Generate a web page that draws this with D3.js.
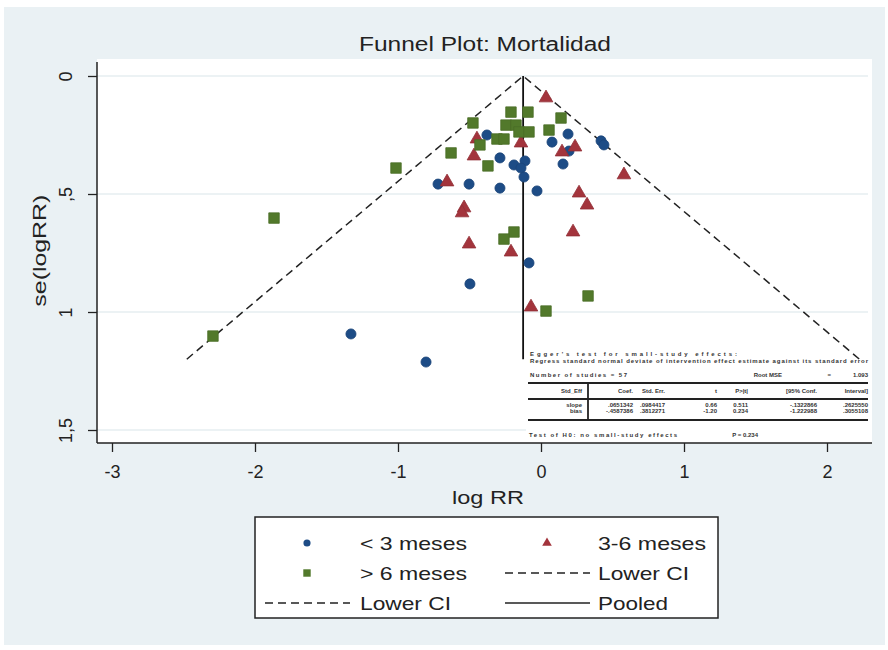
<!DOCTYPE html>
<html>
<head>
<meta charset="utf-8">
<script src="https://cdn.jsdelivr.net/npm/d3@7"></script>
<style>
  body { margin: 0; background: #fff; }
  svg text { font-family: "Liberation Sans Narrow", "Liberation Sans", Arial, sans-serif; }
</style>
</head>
<body>
<div id="chart"></div>
<script>
// x = log RR, y = se(logRR)
const lessThan3 = [
    [-0.378, 0.250], [0.189, 0.246], [0.077, 0.280], [0.420, 0.275], [0.440, 0.292],
    [0.196, 0.318], [-0.287, 0.347], [-0.112, 0.360], [-0.189, 0.377], [-0.140, 0.390],
    [0.154, 0.373], [-0.119, 0.428], [-0.720, 0.458], [-0.503, 0.458], [-0.287, 0.475],
    [-0.028, 0.487], [-0.084, 0.792], [-0.497, 0.881], [-1.329, 1.093], [-0.804, 1.212]
];
const from3to6 = [
    [0.035, 0.093], [-0.448, 0.267], [-0.140, 0.284], [-0.469, 0.339], [0.238, 0.301],
    [0.147, 0.322], [0.580, 0.419], [-0.657, 0.449], [0.266, 0.496], [0.322, 0.547],
    [-0.538, 0.559], [-0.552, 0.580], [0.224, 0.661], [-0.503, 0.712], [-0.210, 0.746],
    [-0.070, 0.979]
];
const moreThan6 = [
    [-0.210, 0.153], [-0.091, 0.153], [0.140, 0.178], [-0.476, 0.199], [-0.245, 0.208],
    [-0.175, 0.208], [-0.154, 0.237], [-0.084, 0.237], [0.056, 0.229], [-0.308, 0.267],
    [-0.259, 0.267], [-0.427, 0.292], [-0.629, 0.326], [-0.371, 0.381], [-1.014, 0.390],
    [-1.867, 0.602], [-0.189, 0.661], [-0.259, 0.691], [0.329, 0.932], [0.035, 0.996],
    [-2.294, 1.102]
];
const pooled = -0.125;
const seMax = 1.2;
const xTicks = [-3, -2, -1, 0, 1, 2];
const yTicks = [0, 0.5, 1, 1.5];

// Egger's test output printed in the plot (barely legible in the original)
const eggerLines = [
    "Egger's test for small-study effects:",
    "Regress standard normal deviate of intervention effect estimate against its standard error"
];
const eggerStudies = "Number of studies =  57";
const eggerRmse = ["Root MSE", "=", "1.093"];
const eggerHeader = ["Std_Eff", "Coef.", "Std. Err.", "t", "P>|t|", "[95% Conf.", "Interval]"];
const eggerRows = [
    ["slope", ".0651342", ".0984417", "0.66", "0.511", "-.1322866", ".2625550"],
    ["bias", "-.4587386", ".3812271", "-1.20", "0.234", "-1.222988", ".3055108"]
];
const eggerTest = ["Test of H0: no small-study effects", "P = 0.234"];

const series = [
    { name: "< 3 meses", data: lessThan3, color: "#1d4c86", shape: "circle" },
    { name: "3-6 meses", data: from3to6, color: "#a3343c", shape: "triangle" },
    { name: "> 6 meses", data: moreThan6, color: "#52792b", shape: "square" }
];

const width = 888, height = 650;
const plot = { left: 97, right: 872, top: 59, bottom: 443 };

const x = d3.scaleLinear().domain([-3, 2]).range([112, 827]);
const y = d3.scaleLinear().domain([0, 1.5]).range([76, 430]);

const svg = d3.create("svg")
    .attr("width", width)
    .attr("height", height)
    .attr("viewBox", [0, 0, width, height]);

// graph region and plot region
svg.append("rect").attr("x", 4).attr("y", 7).attr("width", 881).attr("height", 638).attr("fill", "#eaf1f4");
svg.append("rect").attr("x", plot.left).attr("y", plot.top)
    .attr("width", plot.right - plot.left).attr("height", plot.bottom - plot.top).attr("fill", "#fff");

svg.append("g")
    .selectAll("line")
    .data(yTicks)
    .join("line")
    .attr("x1", plot.left).attr("x2", plot.right - 4)
    .attr("y1", d => y(d)).attr("y2", d => y(d))
    .attr("stroke", "#e6eef1").attr("stroke-width", 1.5);

svg.append("text")
    .attr("x", 485).attr("y", 51)
    .attr("text-anchor", "middle")
    .attr("textLength", 252).attr("lengthAdjust", "spacingAndGlyphs")
    .style("font-size", "20px").attr("fill", "#222")
    .text("Funnel Plot: Mortalidad");

// axes
const xAxis = svg.append("g")
    .attr("transform", `translate(0,${plot.bottom})`)
    .call(d3.axisBottom(x).tickValues(xTicks).tickSize(9).tickPadding(13).tickFormat(d => String(d)));
xAxis.select(".domain").remove();
xAxis.selectAll("line").attr("stroke", "#222").attr("stroke-width", 1.3);
xAxis.selectAll("text").style("font-size", "18px").attr("fill", "#222");

const yAxis = svg.append("g")
    .attr("transform", `translate(${plot.left},0)`)
    .call(d3.axisLeft(y).tickValues(yTicks).tickSize(9)
        .tickFormat(d => String(d).replace(".", ",").replace(/^0,/, ",")));
yAxis.select(".domain").remove();
yAxis.selectAll("line").attr("stroke", "#222").attr("stroke-width", 1.3);
yAxis.selectAll("text")
    .attr("transform", "rotate(-90)")
    .attr("x", 0).attr("y", -25).attr("dy", 0)
    .attr("text-anchor", "middle")
    .style("font-size", "18px").attr("fill", "#222");

svg.append("line").attr("x1", plot.left).attr("x2", plot.left)
    .attr("y1", plot.top + 3).attr("y2", plot.bottom).attr("stroke", "#222").attr("stroke-width", 1.5);
svg.append("line").attr("x1", plot.left).attr("x2", plot.right)
    .attr("y1", plot.bottom).attr("y2", plot.bottom).attr("stroke", "#222").attr("stroke-width", 1.5);

svg.append("text")
    .attr("x", 488).attr("y", 504)
    .attr("text-anchor", "middle")
    .attr("textLength", 72).attr("lengthAdjust", "spacingAndGlyphs")
    .style("font-size", "19px").attr("fill", "#222")
    .text("log RR");
svg.append("text")
    .attr("transform", `translate(46,${y(0.74)}) rotate(-90)`)
    .attr("text-anchor", "middle")
    .attr("textLength", 112).attr("lengthAdjust", "spacingAndGlyphs")
    .style("font-size", "19px").attr("fill", "#222")
    .text("se(logRR)");

// Egger table (drawn under the funnel lines)
const tbl = svg.append("g").attr("fill", "#333").style("font-size", "6px").style("font-weight", "bold");
tbl.append("rect").attr("x", 526).attr("y", 346).attr("width", 344).attr("height", 94).attr("fill", "#fff");
const lineLen = [207, 338];
tbl.selectAll(".eg").data(eggerLines).join("text")
    .attr("x", 530).attr("y", (d, i) => 356 + i * 7)
    .attr("textLength", (d, i) => lineLen[i]).attr("lengthAdjust", "spacing")
    .text(d => d);
tbl.append("text").attr("x", 530).attr("y", 377)
    .attr("textLength", 97).attr("lengthAdjust", "spacing").text(eggerStudies);
const rmseX = [782, 831, 868];
tbl.selectAll(".rm").data(eggerRmse).join("text")
    .attr("x", (d, i) => rmseX[i]).attr("y", 377).attr("text-anchor", "end").text(d => d);
const colX = [582, 633, 665, 717, 748, 817, 868];
tbl.selectAll(".hd").data(eggerHeader).join("text")
    .attr("x", (d, i) => colX[i]).attr("y", 393).attr("text-anchor", "end").text(d => d);
eggerRows.forEach((row, r) => {
    tbl.selectAll(".r" + r).data(row).join("text")
        .attr("x", (d, i) => colX[i]).attr("y", 407 + r * 6).attr("text-anchor", "end").text(d => d);
});
tbl.append("text").attr("x", 529).attr("y", 437)
    .attr("textLength", 148).attr("lengthAdjust", "spacing").text(eggerTest[0]);
tbl.append("text").attr("x", 758).attr("y", 437).attr("text-anchor", "end").text(eggerTest[1]);
[383, 399, 420].forEach(ly => {
    tbl.append("line").attr("x1", 528).attr("x2", 868).attr("y1", ly).attr("y2", ly)
        .attr("stroke", "#222").attr("stroke-width", 1.8);
});
tbl.append("line").attr("x1", 588).attr("x2", 588).attr("y1", 383).attr("y2", 420)
    .attr("stroke", "#222").attr("stroke-width", 1.8);

// funnel
const line = d3.line().x(d => x(d[0])).y(d => y(d[1]));
svg.append("path")
    .attr("d", line([[pooled - 1.96 * seMax, seMax], [pooled, 0], [pooled + 1.96 * seMax, seMax]]))
    .attr("fill", "none").attr("stroke", "#222").attr("stroke-width", 1.5)
    .attr("stroke-dasharray", "8,5");
svg.append("path")
    .attr("d", line([[pooled, 0], [pooled, seMax]]))
    .attr("fill", "none").attr("stroke", "#111").attr("stroke-width", 1.8);

const symbolType = { circle: d3.symbolCircle, triangle: d3.symbolTriangle, square: d3.symbolSquare };
const symbolSize = { circle: 80, triangle: 80, square: 110 };

series.forEach(s => {
    svg.append("g")
        .selectAll("path")
        .data(s.data)
        .join("path")
        .attr("transform", d => `translate(${x(d[0])},${y(d[1])})`)
        .attr("d", d3.symbol(symbolType[s.shape], symbolSize[s.shape]))
        .attr("fill", s.color)
        .attr("stroke", d3.color(s.color).darker(0.3))
        .attr("stroke-width", 0.8);
});

// legend
const lg = svg.append("g");
lg.append("rect").attr("x", 255).attr("y", 517).attr("width", 463).attr("height", 101)
    .attr("fill", "#fff").attr("stroke", "#222").attr("stroke-width", 1.5);
const legendItems = [
    { label: "< 3 meses", kind: "circle", col: 0, row: 0, color: series[0].color, len: 107 },
    { label: "3-6 meses", kind: "triangle", col: 1, row: 0, color: series[1].color, len: 108 },
    { label: "> 6 meses", kind: "square", col: 0, row: 1, color: series[2].color, len: 107 },
    { label: "Lower CI", kind: "dash", col: 1, row: 1, len: 91 },
    { label: "Lower CI", kind: "dash", col: 0, row: 2, len: 91 },
    { label: "Pooled", kind: "solid", col: 1, row: 2, len: 70 }
];
legendItems.forEach(it => {
    const cx = it.col === 0 ? 307 : 547;
    const tx = it.col === 0 ? 360 : 598;
    const cy = 543 + it.row * 30;
    if (it.kind === "dash" || it.kind === "solid") {
        lg.append("line").attr("x1", cx - 42).attr("x2", cx + 43).attr("y1", cy).attr("y2", cy)
            .attr("stroke", "#222").attr("stroke-width", 1.5)
            .attr("stroke-dasharray", it.kind === "dash" ? "8,5" : null);
    } else {
        lg.append("path")
            .attr("transform", `translate(${cx},${cy})`)
            .attr("d", d3.symbol(symbolType[it.kind], symbolSize[it.kind] * 0.5))
            .attr("fill", it.color);
    }
    lg.append("text").attr("x", tx).attr("y", cy + 7)
        .attr("textLength", it.len).attr("lengthAdjust", "spacingAndGlyphs")
        .style("font-size", "19px").attr("fill", "#222")
        .text(it.label);
});

document.getElementById("chart").appendChild(svg.node());
</script>
</body>
</html>
